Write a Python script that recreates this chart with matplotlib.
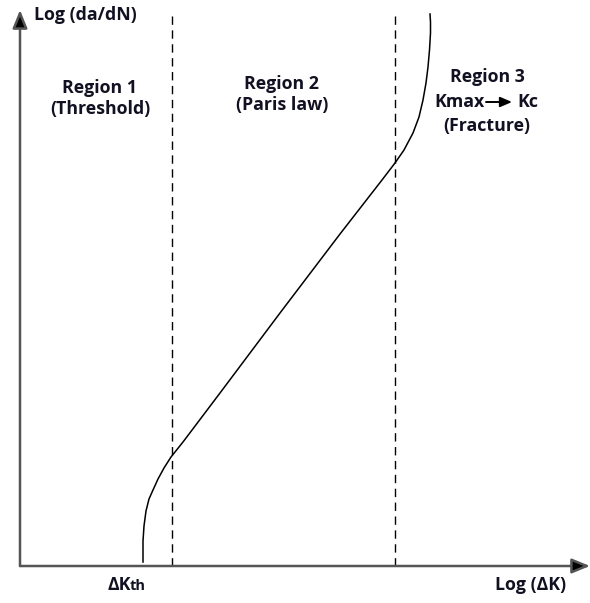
import numpy as np
import matplotlib.pyplot as plt

log_dk = [123, 123, 124, 126, 129, 133, 138, 144, 151, 163,
          200, 260, 320, 362, 375, 384, 393, 399, 403, 406,
          408, 409.5, 410.5, 410.5, 410]
log_dadn = [4, 25, 40, 55, 67, 76, 87, 98, 109, 124,
            173, 253, 332, 386, 403, 416, 433, 449, 466, 483,
            499, 516, 533, 544, 552]

# region boundaries
bounds = [152, 375]
dk_th = 123

# (x centre, baseline, text) for each label line
region_lines = [
    (80, 473, "Region 1"),
    (80, 452, "(Threshold)"),
    (262, 477, "Region 2"),
    (262, 456, "(Paris law)"),
    (467, 484, "Region 3"),
    (467, 435, "(Fracture)"),
]

plt.rcParams['font.family'] = ['Open Sans', 'DejaVu Sans']

fig = plt.figure(figsize=(5.9, 6.03), dpi=100)
ax = fig.add_axes([0, 0, 1, 1])
ax.set_xlim(-20, 570)
ax.set_ylim(-37, 566)
ax.axis('off')

# axes with arrowheads
arrow = dict(arrowstyle='-|>,head_length=1.1,head_width=0.45',
             lw=1.8, fc='black', ec='#555555', shrinkA=0, shrinkB=0)
ax.annotate('', xy=(570, 0), xytext=(0, 0), arrowprops=arrow)
ax.annotate('', xy=(0, 556), xytext=(0, 0), arrowprops=arrow)

for b in bounds:
    ax.plot([b, b], [0, 555], color='black', lw=1, ls=(0, (6, 4)))

ax.plot(log_dk, log_dadn, color='black', lw=1.1)

txt = dict(fontsize=12.8, fontweight='bold', color='#111122')
ax.text(14, 546, "Log (da/dN)", ha='left', va='baseline', **txt)
for x, y, s in region_lines:
    ax.text(x, y, s, ha='center', va='baseline', **txt)

# Kmax -> Kc with a drawn arrow
ax.text(465, 459, "Kmax", ha='right', va='baseline', **txt)
ax.text(497, 459, "Kc", ha='left', va='baseline', **txt)
ax.annotate('', xy=(492, 464), xytext=(466, 464),
            arrowprops=dict(arrowstyle='-|>,head_length=0.7,head_width=0.3',
                            lw=1.4, color='black', shrinkA=0, shrinkB=0))

ax.text(dk_th - 36, -24, "\u0394K", ha='left', va='baseline', **txt)
ax.text(dk_th - 13, -24, "th", ha='left', va='baseline',
        fontsize=10.5, fontweight='bold', color='#111122')
ax.text(546, -24, "Log (\u0394K)", ha='right', va='baseline', **txt)

fig.savefig('out.png', dpi=100)
